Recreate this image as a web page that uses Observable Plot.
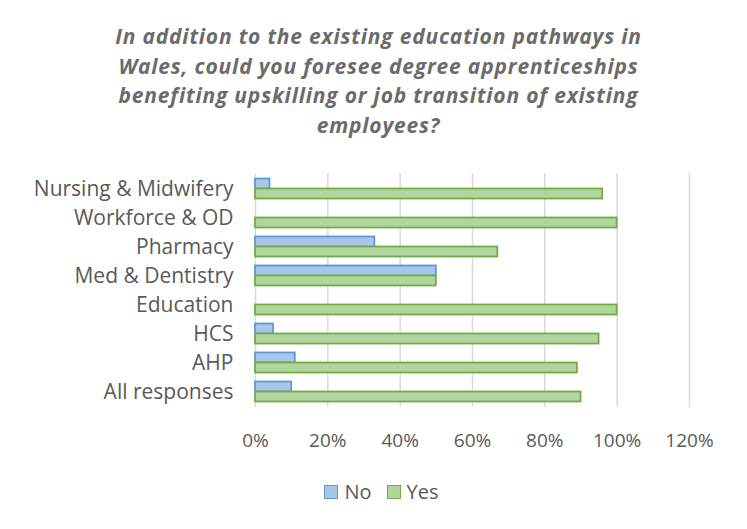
<!DOCTYPE html>
<html>
<head>
<meta charset="utf-8">
<script src="https://cdn.jsdelivr.net/npm/d3@7"></script>
<script src="https://cdn.jsdelivr.net/npm/@observablehq/plot@0.6"></script>
<style>
  html, body { margin: 0; padding: 0; background: #fff; }
  body { width: 747px; height: 529px; overflow: hidden; font-family: "Open Sans", sans-serif; color: #595959; }
  #title { position: absolute; left: 0; top: 22px; width: 747px; text-align: center; font-weight: bold; font-style: italic; font-size: 21px; letter-spacing: 0.8px; line-height: 29.5px; color: #6b6b6b; padding-left: 10px; box-sizing: border-box; }
  #chart { position: absolute; left: 0; top: 150px; }
  #legend { position: absolute; left: 0; top: 478px; width: 747px; display: flex; justify-content: center; gap: 15px; font-size: 20px; color: #595959; padding-left: 16px; box-sizing: border-box; }
  .item { display: flex; align-items: center; gap: 6px; }
  .sw { width: 12px; height: 12px; border: 1.5px solid; }
</style>
</head>
<body>
<div id="title">In addition to the existing education pathways in<br>Wales, could you foresee degree apprenticeships<br>benefiting upskilling or job transition of existing<br>employees?</div>
<div id="chart"></div>
<div id="legend"></div>
<script>
const categories = ["Nursing & Midwifery", "Workforce & OD", "Pharmacy", "Med & Dentistry", "Education", "HCS", "AHP", "All responses"];
const noValues  = [0.04, 0.00, 0.33, 0.50, 0.00, 0.05, 0.11, 0.10];
const yesValues = [0.96, 1.00, 0.67, 0.50, 1.00, 0.95, 0.89, 0.90];
const xTicks = [0, 0.2, 0.4, 0.6, 0.8, 1.0, 1.2];
const seriesNames = ["No", "Yes"];
const seriesFill = ["#a9c5ea", "#b1d59c"];
const seriesStroke = ["#5b9bd5", "#70ad47"];

const noData = categories.map((c, i) => ({category: c, value: noValues[i]})).filter(d => d.value > 0);
const yesData = categories.map((c, i) => ({category: c, value: yesValues[i]})).filter(d => d.value > 0);

const font = "'Open Sans', sans-serif";
const chart = Plot.plot({
  width: 747,
  height: 305,
  marginLeft: 255,
  marginRight: 58,
  marginTop: 23,
  marginBottom: 48,
  style: {fontFamily: font, fontSize: "20px", color: "#595959", background: "white", overflow: "visible"},
  x: {domain: [0, 1.2], ticks: xTicks, tickFormat: d3.format(".0%"), grid: false, label: null},
  y: {domain: categories, padding: 0, label: null},
  marks: [
    Plot.ruleX(xTicks, {stroke: "#d9d9d9", strokeWidth: 1.5}),
    Plot.barX(noData, {x: "value", y: "category", fill: seriesFill[0], stroke: seriesStroke[0], strokeWidth: 1.8, insetTop: 4.5, insetBottom: 14.5}),
    Plot.barX(yesData, {x: "value", y: "category", fill: seriesFill[1], stroke: seriesStroke[1], strokeWidth: 1.8, insetTop: 14.5, insetBottom: 4.5}),
    Plot.axisX({ticks: xTicks, tickFormat: d3.format(".0%"), tickSize: 0, tickPadding: 26, fontSize: 19, fill: "#595959", label: null}),
    Plot.axisY({tickSize: 0, tickPadding: 22, fontSize: 21, fill: "#595959", label: null})
  ]
});
document.getElementById("chart").appendChild(chart);

const legend = document.getElementById("legend");
seriesNames.forEach((n, i) => {
  const item = document.createElement("div");
  item.className = "item";
  const sw = document.createElement("div");
  sw.className = "sw";
  sw.style.background = seriesFill[i];
  sw.style.borderColor = seriesStroke[i];
  const t = document.createElement("span");
  t.textContent = n;
  item.appendChild(sw); item.appendChild(t);
  legend.appendChild(item);
});
</script>
</body>
</html>
